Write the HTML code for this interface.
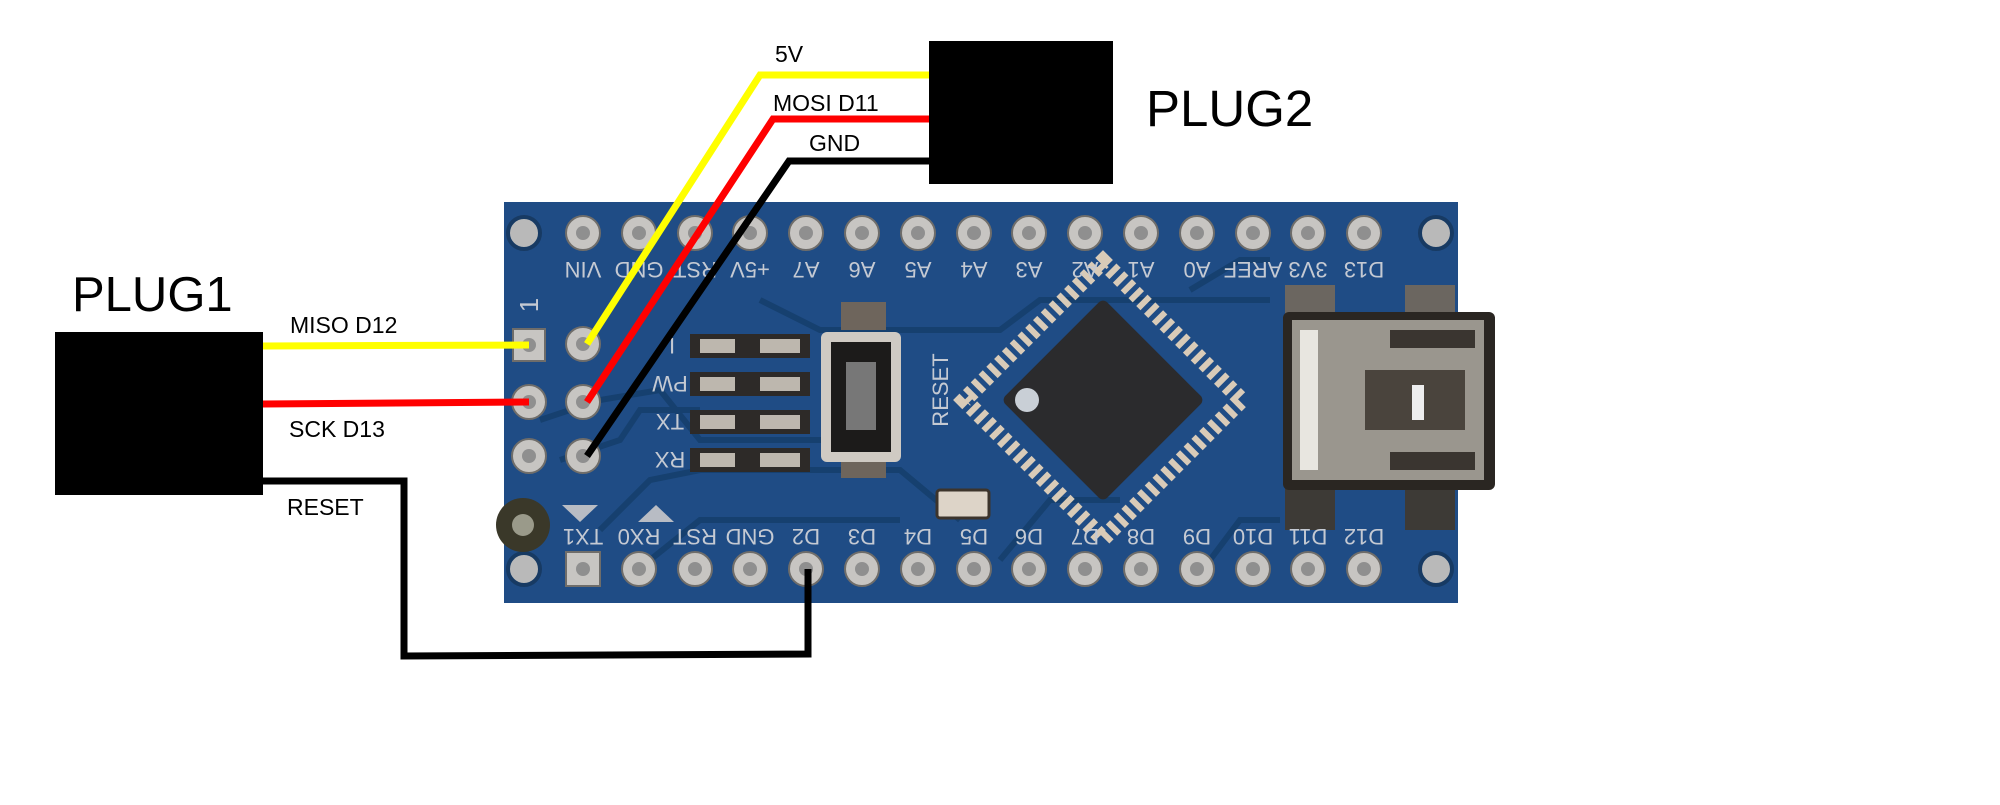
<!DOCTYPE html>
<html><head><meta charset="utf-8"><style>
html,body{margin:0;padding:0;background:#fff;}
svg{display:block;}
.t{font-family:"Liberation Sans",sans-serif;}
</style></head><body>
<svg width="2000" height="805" viewBox="0 0 2000 805" xmlns="http://www.w3.org/2000/svg">
<rect width="2000" height="805" fill="#fff"/>
<!-- board -->
<rect x="504" y="202" width="954" height="401" fill="#1f4c85"/>
<g stroke="#16406f" stroke-width="6" fill="none">
<path d="M760 300 L820 330 L1000 330 L1040 300 L1270 300"/>
<path d="M540 420 L600 400 L660 390 L700 440 L830 440"/>
<path d="M600 530 L650 480 L700 470 L900 470 L960 520"/>
<path d="M1190 290 L1240 260 L1270 260"/>
<path d="M650 560 L700 520 L900 520"/>
<path d="M1000 560 L1050 500 L1120 500"/>
<path d="M1210 560 L1240 520 L1280 520"/>
<path d="M560 460 L620 440 L640 410 L700 410"/>
</g>
<!-- pads near USB -->
<rect x="1285" y="285" width="50" height="40" fill="#6b6660"/>
<rect x="1405" y="285" width="50" height="40" fill="#6b6660"/>
<rect x="1285" y="480" width="50" height="50" fill="#3d3a36"/>
<rect x="1405" y="480" width="50" height="50" fill="#3d3a36"/>
<!-- USB connector -->
<rect x="1283" y="312" width="212" height="178" rx="6" fill="#2a2622"/>
<rect x="1292" y="320" width="192" height="160" fill="#9a968e"/>
<rect x="1300" y="330" width="18" height="140" fill="#e8e6e0"/>
<rect x="1390" y="330" width="85" height="18" fill="#3a3530"/>
<rect x="1390" y="452" width="85" height="18" fill="#3a3530"/>
<rect x="1365" y="370" width="100" height="60" fill="#4a443d"/>
<rect x="1412" y="385" width="12" height="35" fill="#eee"/>
<!-- chip -->
<g transform="translate(1103 400) rotate(45)">
<rect x="-98" y="-98" width="196" height="196" fill="none" stroke="#d9cbb8" stroke-width="16" stroke-dasharray="6 5"/>
<rect x="-72" y="-72" width="144" height="144" rx="6" fill="#2b2b2d"/>
</g>
<circle cx="1027" cy="400" r="12" fill="#c9cfd6"/>
<!-- reset button -->
<rect x="841" y="302" width="45" height="28" fill="#6e655c"/>
<rect x="841" y="450" width="45" height="28" fill="#6e655c"/>
<rect x="821" y="332" width="80" height="130" rx="6" fill="#cfcac3"/>
<rect x="831" y="342" width="60" height="110" fill="#1c1b1a"/>
<rect x="846" y="362" width="30" height="68" fill="#777"/>
<!-- crystal -->
<rect x="937" y="490" width="52" height="28" rx="3" fill="#ddd4c8" stroke="#3c342c" stroke-width="3"/>
<!-- LEDs -->
<g fill="#2d2a28">
<rect x="690" y="334" width="120" height="24"/><rect x="690" y="372" width="120" height="24"/>
<rect x="690" y="410" width="120" height="24"/><rect x="690" y="448" width="120" height="24"/>
</g>
<g fill="#bdb7ae">
<rect x="700" y="339" width="35" height="14"/><rect x="760" y="339" width="40" height="14"/>
<rect x="700" y="377" width="35" height="14"/><rect x="760" y="377" width="40" height="14"/>
<rect x="700" y="415" width="35" height="14"/><rect x="760" y="415" width="40" height="14"/>
<rect x="700" y="453" width="35" height="14"/><rect x="760" y="453" width="40" height="14"/>
</g>
<!-- board labels -->
<g class="t" fill="#c5cad3" font-size="22" text-anchor="middle">
<text transform="rotate(180 583 270)" x="583" y="278">VIN</text>
<text transform="rotate(180 639 270)" x="639" y="278">GND</text>
<text transform="rotate(180 695 270)" x="695" y="278">RST</text>
<text transform="rotate(180 750 270)" x="750" y="278">+5V</text>
<text transform="rotate(180 806 270)" x="806" y="278">A7</text>
<text transform="rotate(180 862 270)" x="862" y="278">A6</text>
<text transform="rotate(180 918 270)" x="918" y="278">A5</text>
<text transform="rotate(180 974 270)" x="974" y="278">A4</text>
<text transform="rotate(180 1029 270)" x="1029" y="278">A3</text>
<text transform="rotate(180 1085 270)" x="1085" y="278">A2</text>
<text transform="rotate(180 1141 270)" x="1141" y="278">A1</text>
<text transform="rotate(180 1197 270)" x="1197" y="278">A0</text>
<text transform="rotate(180 1253 270)" x="1253" y="278">AREF</text>
<text transform="rotate(180 1308 270)" x="1308" y="278">3V3</text>
<text transform="rotate(180 1364 270)" x="1364" y="278">D13</text>
<text transform="rotate(180 583 537)" x="583" y="545">TX1</text>
<text transform="rotate(180 639 537)" x="639" y="545">RX0</text>
<text transform="rotate(180 695 537)" x="695" y="545">RST</text>
<text transform="rotate(180 750 537)" x="750" y="545">GND</text>
<text transform="rotate(180 806 537)" x="806" y="545">D2</text>
<text transform="rotate(180 862 537)" x="862" y="545">D3</text>
<text transform="rotate(180 918 537)" x="918" y="545">D4</text>
<text transform="rotate(180 974 537)" x="974" y="545">D5</text>
<text transform="rotate(180 1029 537)" x="1029" y="545">D6</text>
<text transform="rotate(180 1085 537)" x="1085" y="545">D7</text>
<text transform="rotate(180 1141 537)" x="1141" y="545">D8</text>
<text transform="rotate(180 1197 537)" x="1197" y="545">D9</text>
<text transform="rotate(180 1253 537)" x="1253" y="545">D10</text>
<text transform="rotate(180 1308 537)" x="1308" y="545">D11</text>
<text transform="rotate(180 1364 537)" x="1364" y="545">D12</text>
<text transform="rotate(180 672 346)" x="672" y="354">I</text>
<text transform="rotate(180 670 384)" x="670" y="392">PW</text>
<text transform="rotate(180 670 422)" x="670" y="430">TX</text>
<text transform="rotate(180 670 460)" x="670" y="468">RX</text>
<text transform="rotate(-90 940 390)" x="940" y="398">RESET</text>
<text transform="rotate(-90 530 305)" x="530" y="313" font-size="26">1</text>
</g>
<polygon points="562,505 598,505 580,522" fill="#b8bcc4"/>
<polygon points="638,522 674,522 656,505" fill="#b8bcc4"/>
<!-- corner holes -->
<g fill="#b9b9b9" stroke="#173a63" stroke-width="4">
<circle cx="524" cy="233" r="16"/><circle cx="1436" cy="233" r="16"/>
<circle cx="524" cy="569" r="16"/><circle cx="1436" cy="569" r="16"/>
</g>
<circle cx="523" cy="525" r="27" fill="#3a3829"/><circle cx="523" cy="525" r="11" fill="#9a9a8a"/>
<!-- pins -->
<g fill="#c7c5c2" stroke="#6f6d6a" stroke-width="2">
<circle cx="583" cy="233" r="17"/><circle cx="639" cy="233" r="17"/><circle cx="695" cy="233" r="17"/><circle cx="750" cy="233" r="17"/><circle cx="806" cy="233" r="17"/><circle cx="862" cy="233" r="17"/><circle cx="918" cy="233" r="17"/><circle cx="974" cy="233" r="17"/><circle cx="1029" cy="233" r="17"/><circle cx="1085" cy="233" r="17"/><circle cx="1141" cy="233" r="17"/><circle cx="1197" cy="233" r="17"/><circle cx="1253" cy="233" r="17"/><circle cx="1308" cy="233" r="17"/><circle cx="1364" cy="233" r="17"/>
<rect x="566" y="552" width="34" height="34"/><circle cx="639" cy="569" r="17"/><circle cx="695" cy="569" r="17"/><circle cx="750" cy="569" r="17"/><circle cx="806" cy="569" r="17"/><circle cx="862" cy="569" r="17"/><circle cx="918" cy="569" r="17"/><circle cx="974" cy="569" r="17"/><circle cx="1029" cy="569" r="17"/><circle cx="1085" cy="569" r="17"/><circle cx="1141" cy="569" r="17"/><circle cx="1197" cy="569" r="17"/><circle cx="1253" cy="569" r="17"/><circle cx="1308" cy="569" r="17"/><circle cx="1364" cy="569" r="17"/>
<rect x="513" y="329" width="32" height="32"/><circle cx="529" cy="402" r="17"/><circle cx="529" cy="456" r="17"/>
<circle cx="583" cy="344" r="17"/><circle cx="583" cy="402" r="17"/><circle cx="583" cy="456" r="17"/>
</g>
<g fill="#8f8f8f">
<circle cx="583" cy="233" r="7"/><circle cx="639" cy="233" r="7"/><circle cx="695" cy="233" r="7"/><circle cx="750" cy="233" r="7"/><circle cx="806" cy="233" r="7"/><circle cx="862" cy="233" r="7"/><circle cx="918" cy="233" r="7"/><circle cx="974" cy="233" r="7"/><circle cx="1029" cy="233" r="7"/><circle cx="1085" cy="233" r="7"/><circle cx="1141" cy="233" r="7"/><circle cx="1197" cy="233" r="7"/><circle cx="1253" cy="233" r="7"/><circle cx="1308" cy="233" r="7"/><circle cx="1364" cy="233" r="7"/>
<circle cx="583" cy="569" r="7"/><circle cx="639" cy="569" r="7"/><circle cx="695" cy="569" r="7"/><circle cx="750" cy="569" r="7"/><circle cx="806" cy="569" r="7"/><circle cx="862" cy="569" r="7"/><circle cx="918" cy="569" r="7"/><circle cx="974" cy="569" r="7"/><circle cx="1029" cy="569" r="7"/><circle cx="1085" cy="569" r="7"/><circle cx="1141" cy="569" r="7"/><circle cx="1197" cy="569" r="7"/><circle cx="1253" cy="569" r="7"/><circle cx="1308" cy="569" r="7"/><circle cx="1364" cy="569" r="7"/>
<circle cx="529" cy="345" r="7"/><circle cx="529" cy="402" r="7"/><circle cx="529" cy="456" r="7"/>
<circle cx="583" cy="344" r="7"/><circle cx="583" cy="402" r="7"/><circle cx="583" cy="456" r="7"/>
</g>
<!-- wires -->
<g fill="none" stroke-width="7" stroke-linejoin="miter">
<polyline points="263,346 529,345" stroke="#ffff00"/>
<polyline points="263,404 529,402" stroke="#ff0000"/>
<polyline points="263,481 404,481 404,656 808,654 808,569" stroke="#000"/>
<polyline points="929,75 760,75 587,344" stroke="#ffff00"/>
<polyline points="929,119 773,119 587,402" stroke="#ff0000"/>
<polyline points="929,161 789,161 587,456" stroke="#000"/>
</g>
<!-- plugs -->
<rect x="55" y="332" width="208" height="163" fill="#000"/>
<rect x="929" y="41" width="184" height="143" fill="#000"/>
<g class="t" fill="#000">
<text x="72" y="311" font-size="49">PLUG1</text>
<text x="1146" y="126" font-size="51">PLUG2</text>
<text x="775" y="62" font-size="23">5V</text>
<text x="773" y="111" font-size="23">MOSI D11</text>
<text x="809" y="151" font-size="23">GND</text>
<text x="290" y="333" font-size="23">MISO D12</text>
<text x="289" y="437" font-size="23">SCK D13</text>
<text x="287" y="515" font-size="23">RESET</text>
</g>
</svg>
</body></html>
